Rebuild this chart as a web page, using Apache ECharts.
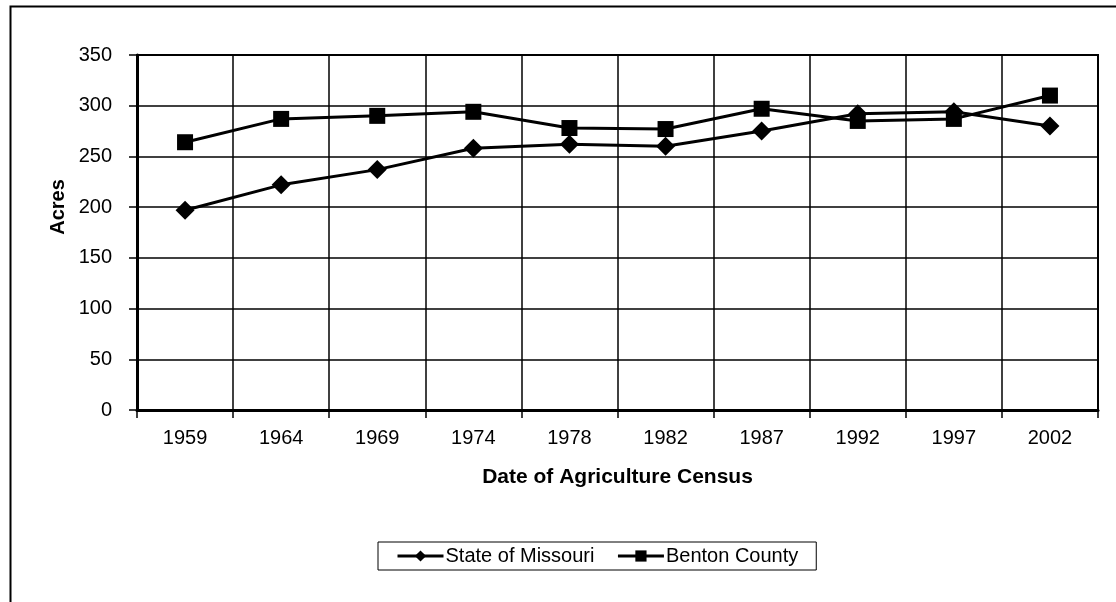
<!DOCTYPE html>
<html>
<head>
<meta charset="utf-8">
<script src="https://cdn.jsdelivr.net/npm/echarts@6/dist/echarts.min.js"></script>
<style>html,body{margin:0;padding:0;background:#fff;}#c{width:1116px;height:602px;}</style>
</head>
<body>
<div id="c"></div>
<script>
const categories = ['1959','1964','1969','1974','1978','1982','1987','1992','1997','2002'];
const missouri = [197, 222, 237, 258, 262, 260, 275, 292, 294, 280];
const benton = [264, 287, 290, 294, 278, 277, 297, 285, 287, 310];
const yTicks = [0, 50, 100, 150, 200, 250, 300, 350];

const FONT = '"Liberation Sans", Arial, sans-serif';
const chart = echarts.init(document.getElementById('c'), null, {renderer: 'canvas'});
chart.setOption({
  animation: false,
  backgroundColor: '#fff',
  textStyle: {fontFamily: FONT, color: '#000'},
  graphic: [{
    type: 'rect', left: 8, top: 4, z: -1,
    shape: {width: 1200, height: 700},
    style: {fill: 'none', stroke: '#000', lineWidth: 2}
  }, {
    type: 'text', x: 58, y: 207, rotation: Math.PI / 2,
    style: {text: 'Acres', font: 'bold 20px ' + FONT, fill: '#000', align: 'center', verticalAlign: 'middle'}
  }],
  grid: {left: 137, top: 55, right: 18, bottom: 192, show: true, borderColor: '#000', borderWidth: 2, containLabel: false},
  legend: {
    left: 378, top: 542, width: 442,
    data: ['State of Missouri', 'Benton County'],
    itemWidth: 46, itemHeight: 14, itemGap: 22,
    borderColor: '#000', borderWidth: 1, padding: [4, 18, 4, 18],
    lineStyle: {width: 3},
    textStyle: {fontFamily: FONT, fontSize: 20, color: '#000', padding: [0, 0, 0, -3]}
  },
  xAxis: {
    type: 'category', data: categories, boundaryGap: true,
    name: 'Date of Agriculture Census', nameLocation: 'middle', nameGap: 57,
    nameTextStyle: {fontFamily: FONT, fontSize: 21, fontWeight: 'bold', color: '#000'},
    axisLine: {lineStyle: {color: '#000', width: 3}},
    axisTick: {show: true, length: 8, lineStyle: {color: '#000', width: 1.5}},
    axisLabel: {fontFamily: FONT, fontSize: 20, color: '#000', margin: 18, interval: 0},
    splitLine: {show: true, interval: 0, lineStyle: {color: '#000', width: 1.5}}
  },
  yAxis: {
    type: 'value', min: 0, max: 350, interval: 50,
    axisLine: {show: true, lineStyle: {color: '#000', width: 3}},
    axisTick: {show: true, length: 8, lineStyle: {color: '#000', width: 1.5}},
    axisLabel: {fontFamily: FONT, fontSize: 20, color: '#000', margin: 25,
      formatter: v => yTicks.includes(v) ? String(v) : ''},
    splitLine: {show: true, lineStyle: {color: '#000', width: 1.5}}
  },
  series: [
    {name: 'State of Missouri', type: 'line', data: missouri, symbol: 'diamond', symbolSize: 19,
     lineStyle: {color: '#000', width: 3}, itemStyle: {color: '#000'}},
    {name: 'Benton County', type: 'line', data: benton, symbol: 'rect', symbolSize: 16,
     lineStyle: {color: '#000', width: 3}, itemStyle: {color: '#000'}}
  ]
});
</script>
</body>
</html>
